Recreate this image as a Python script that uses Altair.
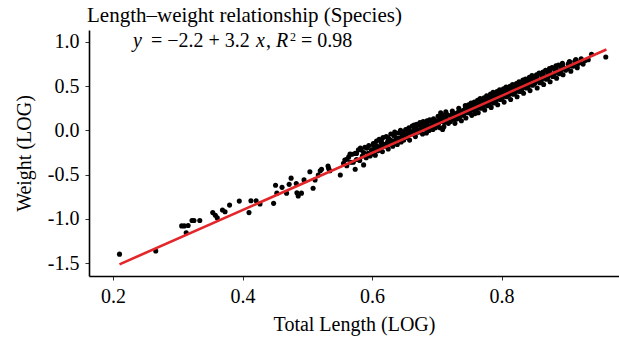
import altair as alt
import pandas as pd

# ---- data (log total length vs log weight) ----
sparse_x = [0.210, 0.266, 0.306, 0.310, 0.316, 0.313, 0.322, 0.325, 0.334, 0.354,
            0.358, 0.361, 0.369, 0.373, 0.380, 0.395, 0.410, 0.413, 0.421, 0.427,
            0.448, 0.451, 0.461, 0.453, 0.468, 0.475, 0.472, 0.483, 0.484, 0.486,
            0.491, 0.495, 0.504, 0.509, 0.512, 0.517, 0.520, 0.532, 0.535, 0.551,
            0.556, 0.561, 0.566, 0.576, 0.587, 0.522, 0.533, 0.558, 0.574, 0.582,
            0.597, 0.602, 0.610]
sparse_y = [-1.40, -1.364, -1.08, -1.08, -1.075, -1.157, -1.02, -1.02, -1.02, -0.93,
            -0.96, -0.99, -0.90, -0.92, -0.845, -0.80, -0.93, -0.795, -0.795, -0.833,
            -0.825, -0.62, -0.644, -0.71, -0.71, -0.54, -0.61, -0.60, -0.705, -0.742,
            -0.71, -0.56, -0.467, -0.655, -0.56, -0.505, -0.456, -0.403, -0.456, -0.505,
            -0.372, -0.327, -0.267, -0.26, -0.39, -0.44, -0.43, -0.335, -0.44, -0.20,
            -0.28, -0.165, -0.20]

band_x = [
    0.561, 0.564, 0.567, 0.569,
    0.571, 0.574, 0.576, 0.579,
    0.581, 0.583, 0.585, 0.587, 0.589,
    0.591, 0.592, 0.594, 0.595, 0.597, 0.599,
    0.601, 0.602, 0.604, 0.605, 0.607, 0.608, 0.609,
    0.611, 0.613, 0.614, 0.616, 0.617, 0.619,
    0.621, 0.622, 0.624, 0.625, 0.627, 0.628, 0.629,
    0.631, 0.632, 0.634, 0.635, 0.637, 0.638, 0.639,
    0.641, 0.642, 0.644, 0.645, 0.647, 0.648, 0.649,
    0.651, 0.652, 0.654, 0.655, 0.657, 0.658, 0.659,
    0.661, 0.662, 0.664, 0.665, 0.667, 0.668, 0.669,
    0.671, 0.672, 0.674, 0.675, 0.677, 0.678, 0.679,
    0.681, 0.682, 0.684, 0.685, 0.687, 0.688, 0.689,
    0.691, 0.692, 0.694, 0.695, 0.697, 0.698, 0.699,
    0.701, 0.702, 0.704, 0.705, 0.707, 0.708, 0.709, 0.703, 0.706,
    0.711, 0.712, 0.714, 0.715, 0.716, 0.718,
    0.721, 0.722, 0.724, 0.725, 0.727, 0.728, 0.729,
    0.731, 0.732, 0.734, 0.735, 0.737, 0.738, 0.739,
    0.741, 0.742, 0.744, 0.745, 0.747, 0.748, 0.749,
    0.751, 0.752, 0.753, 0.754, 0.755, 0.757, 0.758, 0.759,
    0.761, 0.762, 0.763, 0.764, 0.765, 0.767, 0.768, 0.769,
    0.771, 0.772, 0.773, 0.774, 0.775, 0.777, 0.778, 0.779,
    0.781, 0.782, 0.783, 0.784, 0.785, 0.787, 0.788, 0.789,
    0.791, 0.792, 0.793, 0.794, 0.795, 0.797, 0.798, 0.799,
    0.801, 0.802, 0.803, 0.804, 0.805, 0.807, 0.808, 0.809,
    0.811, 0.812, 0.813, 0.814, 0.815, 0.817, 0.818, 0.819,
    0.821, 0.822, 0.823, 0.824, 0.825, 0.827, 0.828, 0.829,
    0.831, 0.832, 0.833, 0.834, 0.835, 0.837, 0.838, 0.839,
    0.841, 0.842, 0.843, 0.844, 0.845, 0.847, 0.848, 0.849,
    0.851, 0.852, 0.854, 0.855, 0.857, 0.858, 0.859,
    0.861, 0.862, 0.864, 0.865, 0.867, 0.868, 0.869,
    0.871, 0.872, 0.874, 0.875, 0.877, 0.878, 0.879,
    0.881, 0.882, 0.884, 0.885, 0.887, 0.888, 0.889,
    0.891, 0.892, 0.894, 0.895, 0.897, 0.899,
    0.901, 0.903, 0.905, 0.907, 0.909,
    0.911, 0.913, 0.915, 0.917, 0.919,
    0.921, 0.923, 0.926, 0.929,
    0.934, 0.939, 0.961,
]
band_y = [
    -0.40, -0.30, -0.36, -0.27,
    -0.36, -0.26, -0.33, -0.22,
    -0.34, -0.22, -0.29, -0.25, -0.19,
    -0.31, -0.20, -0.26, -0.17, -0.29, -0.22,
    -0.26, -0.15, -0.21, -0.28, -0.12, -0.18, -0.23,
    -0.10, -0.19, -0.14, -0.24, -0.08, -0.17,
    -0.18, -0.07, -0.13, -0.21, -0.10, -0.15, -0.04,
    -0.12, -0.18, -0.06, -0.02, -0.14, -0.09, -0.16,
    -0.03, -0.09, 0.00, -0.13, -0.06, -0.02, -0.11,
    -0.05, 0.01, -0.08, -0.03, 0.03, -0.11, -0.01,
    -0.04, 0.05, -0.01, 0.06, -0.07, 0.02, 0.07,
    -0.02, 0.06, 0.09, 0.01, 0.04, -0.04, 0.10,
    0.02, 0.07, -0.03, 0.11, 0.04, 0.00, 0.12,
    0.04, 0.09, 0.01, 0.13, 0.07, 0.03, 0.11,
    0.06, 0.16, 0.10, 0.03, 0.13, 0.18, 0.01, 0.08, 0.20,
    0.04, 0.15, 0.21, 0.11, 0.18, 0.08,
    0.10, 0.17, 0.22, 0.13, 0.19, 0.08, 0.15,
    0.13, 0.20, 0.25, 0.15, 0.22, 0.11, 0.18,
    0.17, 0.23, 0.28, 0.14, 0.25, 0.20, 0.29,
    0.20, 0.26, 0.31, 0.17, 0.28, 0.23, 0.32, 0.19,
    0.23, 0.30, 0.34, 0.20, 0.27, 0.36, 0.25, 0.31,
    0.26, 0.33, 0.37, 0.23, 0.30, 0.39, 0.28, 0.35,
    0.30, 0.37, 0.41, 0.26, 0.34, 0.43, 0.31, 0.38,
    0.33, 0.40, 0.44, 0.29, 0.37, 0.46, 0.35, 0.42,
    0.36, 0.43, 0.47, 0.32, 0.40, 0.49, 0.38, 0.45,
    0.40, 0.46, 0.50, 0.35, 0.43, 0.52, 0.41, 0.48,
    0.43, 0.49, 0.53, 0.38, 0.46, 0.55, 0.44, 0.51,
    0.46, 0.52, 0.57, 0.42, 0.50, 0.58, 0.48, 0.55,
    0.49, 0.56, 0.60, 0.45, 0.53, 0.62, 0.51, 0.58,
    0.53, 0.59, 0.63, 0.48, 0.56, 0.65, 0.54,
    0.56, 0.62, 0.66, 0.52, 0.60, 0.68, 0.58,
    0.59, 0.65, 0.70, 0.55, 0.63, 0.71, 0.61,
    0.63, 0.69, 0.73, 0.59, 0.66, 0.74, 0.64,
    0.66, 0.72, 0.76, 0.63, 0.70, 0.68,
    0.70, 0.75, 0.78, 0.67, 0.73,
    0.73, 0.78, 0.80, 0.71, 0.76,
    0.77, 0.81, 0.75, 0.79,
    0.80, 0.86, 0.83,
]

# extra points filling the dense core of the band
core_x = [
    0.6015, 0.6045, 0.6075, 0.6115, 0.6145, 0.6175, 0.6215, 0.6245, 0.6275,
    0.6315, 0.6345, 0.6375, 0.6415, 0.6445, 0.6475, 0.6515, 0.6545, 0.6575,
    0.6615, 0.6645, 0.6675, 0.6715, 0.6745, 0.6775, 0.6815, 0.6845, 0.6875,
    0.6915, 0.6945, 0.6975, 0.7015, 0.7045, 0.7075, 0.7115, 0.7145, 0.7175,
    0.7215, 0.7245, 0.7275, 0.7315, 0.7345, 0.7375, 0.7415, 0.7445, 0.7475,
    0.7515, 0.7545, 0.7575, 0.7615, 0.7645, 0.7675, 0.7715, 0.7745, 0.7775,
    0.7815, 0.7845, 0.7875, 0.7915, 0.7945, 0.7975, 0.8015, 0.8045, 0.8075,
    0.8115, 0.8145, 0.8175, 0.8215, 0.8245, 0.8275, 0.8315, 0.8345, 0.8375,
    0.8415, 0.8445, 0.8475, 0.8515, 0.8545, 0.8575, 0.8615, 0.8645, 0.8675,
    0.8715, 0.8745, 0.8775, 0.8815, 0.8845, 0.8875, 0.8915, 0.8945, 0.8975,
    0.9015, 0.9045, 0.9075, 0.9115, 0.9145, 0.9175,
]
core_y = [
    -0.22, -0.15, -0.19, -0.19, -0.12, -0.16, -0.155, -0.085, -0.125,
    -0.12, -0.05, -0.09, -0.09, -0.02, -0.06, -0.06, 0.01, -0.03,
    -0.03, 0.04, 0.00, 0.00, 0.07, 0.03, 0.02, 0.09, 0.05,
    0.04, 0.11, 0.07, 0.07, 0.14, 0.10, 0.09, 0.16, 0.12,
    0.12, 0.19, 0.15, 0.15, 0.22, 0.18, 0.185, 0.255, 0.215,
    0.215, 0.285, 0.245, 0.25, 0.32, 0.28, 0.28, 0.35, 0.31,
    0.315, 0.385, 0.345, 0.345, 0.415, 0.375, 0.38, 0.45, 0.41,
    0.41, 0.48, 0.44, 0.44, 0.51, 0.47, 0.475, 0.545, 0.505,
    0.51, 0.58, 0.54, 0.54, 0.61, 0.57, 0.57, 0.64, 0.60,
    0.605, 0.675, 0.635, 0.64, 0.71, 0.67, 0.67, 0.74, 0.70,
    0.70, 0.77, 0.73, 0.73, 0.80, 0.76,
]

# fitted line end points
fit_x = [0.210, 0.962]
fit_y = [-1.515, 0.915]

x_ticks = [0.2, 0.4, 0.6, 0.8]
y_ticks = [-1.5, -1.0, -0.5, 0.0, 0.5, 1.0]

# equation pieces: text, italic?, font size, dx, dy
eq_text = ["y", "= \u22122.2 + 3.2", "x", ",", "R", "2", "= 0.98"]
eq_italic = [True, False, True, False, True, False, False]
eq_size = [20, 20, 20, 20, 20, 12, 20]
eq_dx = [0, 18, 123, 133, 143, 157, 168]
eq_dy = [0, 0, 0, 0, 0, -6, 0]
eq_anchor_x = 0.2309
eq_anchor_y = 0.94

FONT = "Liberation Serif"

pts = pd.DataFrame({"x": sparse_x + band_x + core_x,
                    "y": sparse_y + band_y + core_y})
fit = pd.DataFrame({"x": fit_x, "y": fit_y})

xscale = alt.Scale(domain=[0.1629, 0.9814], nice=False, zero=False)
yscale = alt.Scale(domain=[-1.647, 1.1357], nice=False, zero=False)

xaxis = alt.Axis(
    values=x_ticks, format=".1f", grid=False, title="Total Length (LOG)",
    titleY=54, titleBaseline="alphabetic",
)
yaxis = alt.Axis(
    values=y_ticks, grid=False, title="Weight (LOG)",
    labelExpr="(datum.value < 0 ? '-' : '') + format(abs(datum.value), '.1f')",
    titleX=-59, titleY=123, titleBaseline="alphabetic", titleAngle=-90,
)

points = alt.Chart(pts).mark_circle(size=26, color="black", opacity=1).encode(
    x=alt.X("x:Q", scale=xscale, axis=xaxis),
    y=alt.Y("y:Q", scale=yscale, axis=yaxis),
)

line = alt.Chart(fit).mark_line(color="#e3262a", strokeWidth=2.6).encode(
    x=alt.X("x:Q", scale=xscale),
    y=alt.Y("y:Q", scale=yscale),
)

eq_layers = []
for t, it, fs, dx, dy in zip(eq_text, eq_italic, eq_size, eq_dx, eq_dy):
    kw = dict(text=t, font=FONT, fontSize=fs, dx=dx, dy=dy, align="left",
              baseline="alphabetic", color="black")
    if it:
        kw["fontStyle"] = "italic"
    eq_layers.append(
        alt.Chart(pd.DataFrame({"x": [eq_anchor_x], "y": [eq_anchor_y]}))
        .mark_text(**kw)
        .encode(x=alt.X("x:Q", scale=xscale), y=alt.Y("y:Q", scale=yscale))
    )

chart = alt.layer(points, line, *eq_layers).properties(
    width=530, height=246,
    autosize="none",
    background="white",
    padding={"left": 89, "top": 30, "right": 0, "bottom": 62},
    title=alt.TitleParams(
        "Length\u2013weight relationship (Species)", anchor="start", frame="group",
        font=FONT, fontSize=21, fontWeight="normal", color="black",
        baseline="alphabetic", offset=-13, dx=-2,
    ),
).configure_view(stroke=None).configure_axis(
    labelFont=FONT, labelFontSize=20, labelColor="black",
    titleFont=FONT, titleFontSize=20, titleFontWeight="normal", titleColor="black",
    domainColor="black", domainWidth=1.6, tickColor="#333333", tickWidth=1,
    tickSize=4, labelPadding=6,
)

chart.save("out.html", embed_options={"renderer": "svg", "actions": False})
